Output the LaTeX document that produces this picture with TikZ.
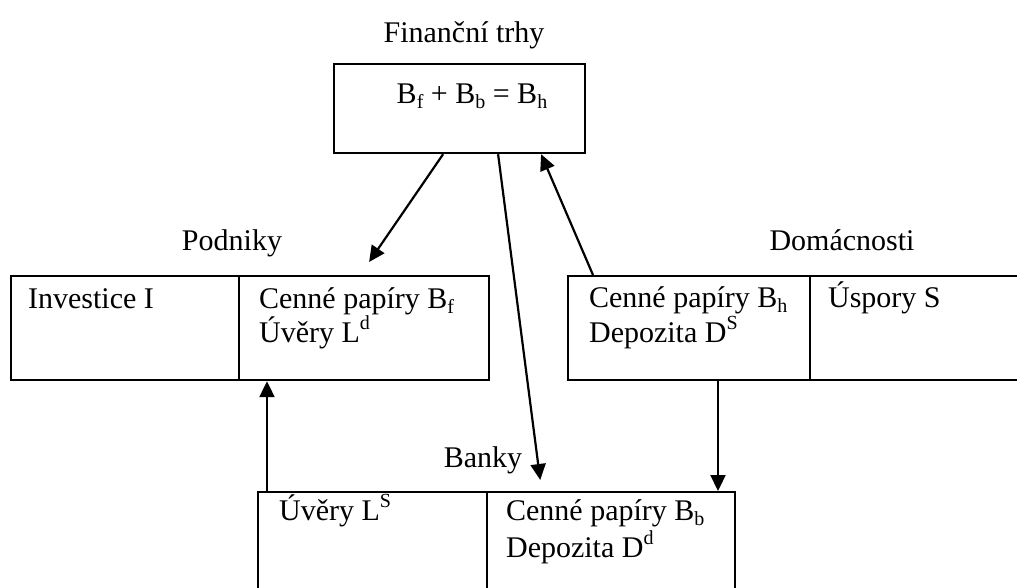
\documentclass[tikz,border=0pt]{standalone}
\usepackage{fontspec}
\setmainfont{Liberation Serif}
\usetikzlibrary{arrows.meta}
% lowered and raised indices in text size
\newcommand\lo[1]{\raisebox{-0.17em}{\fontsize{20}{20}\selectfont #1}}
\newcommand\hi[1]{\raisebox{0.42em}{\fontsize{20}{20}\selectfont #1}}

\begin{document}
\begin{tikzpicture}[x=1pt,y=-1pt,line width=2.2pt,
  box/.style={draw,rectangle,anchor=north west,inner sep=0pt},
  txt/.style={inner sep=0pt,font=\fontsize{30}{36}\selectfont},
  lt/.style={txt,anchor=base west},
  ct/.style={txt,anchor=base},
  flow/.style={-{Triangle[length=16pt,width=15pt]}}]
\useasboundingbox (0,0) rectangle (1017,587);
\clip (0,0) rectangle (1017,587);

% financial markets
\node[box,minimum width=251pt,minimum height=89pt] (fin) at (333,63) {};
\node[ct] (finlbl) at (464,42) {Finanční trhy};
\node[ct] (eq) at (472,103) {B\lo{f} + B\lo{b} = B\lo{h}};

% firms
\node[box,minimum width=228pt,minimum height=104pt] (podL) at (10,275) {};
\node[box,minimum width=250pt,minimum height=104pt] (podR) at (238,275) {};
\node[ct] (podlbl) at (232,250) {Podniky};
\node[lt] (inv) at (27,308) {Investice I};
\node[lt] (bf) at (258,308) {Cenné papíry B\lo{f}};
\node[lt] (ld) at (258,342) {Úvěry L\hi{d}};

% households
\node[box,minimum width=242pt,minimum height=104pt] (domL) at (567,275) {};
\node[box,minimum width=240pt,minimum height=104pt] (domR) at (809,275) {};
\node[ct] (domlbl) at (842,250) {Domácnosti};
\node[lt] (bh) at (588,307) {Cenné papíry B\lo{h}};
\node[lt] (ds) at (588,342) {Depozita D\hi{S}};
\node[lt] (sav) at (827,307) {Úspory S};

% banks
\node[box,minimum width=229pt,minimum height=120pt] (bankL) at (257,491) {};
\node[box,minimum width=248pt,minimum height=120pt] (bankR) at (486,491) {};
\node[ct] (banklbl) at (483,467) {Banky};
\node[lt] (ls) at (278,520) {Úvěry L\hi{S}};
\node[lt] (bb) at (505,520) {Cenné papíry B\lo{b}};
\node[lt] (dd) at (505,557) {Depozita D\hi{d}};

% flows
\draw[flow] ([xshift=-16.5pt]fin.south) -- ([xshift=5pt,yshift=13pt]podR.north);
\draw[flow] ([xshift=38.5pt]fin.south) -- ([xshift=52pt,yshift=11pt]bankL.north east);
\draw[flow] ([xshift=26pt]domL.north west) -- ([xshift=81.5pt]fin.south);
\draw[flow] ([xshift=10pt]bankL.north west) -- ([xshift=29pt]podR.south west);
\draw[flow] ([xshift=151pt]domL.south west) -- ([xshift=232pt]bankR.north west);
\end{tikzpicture}
\end{document}
